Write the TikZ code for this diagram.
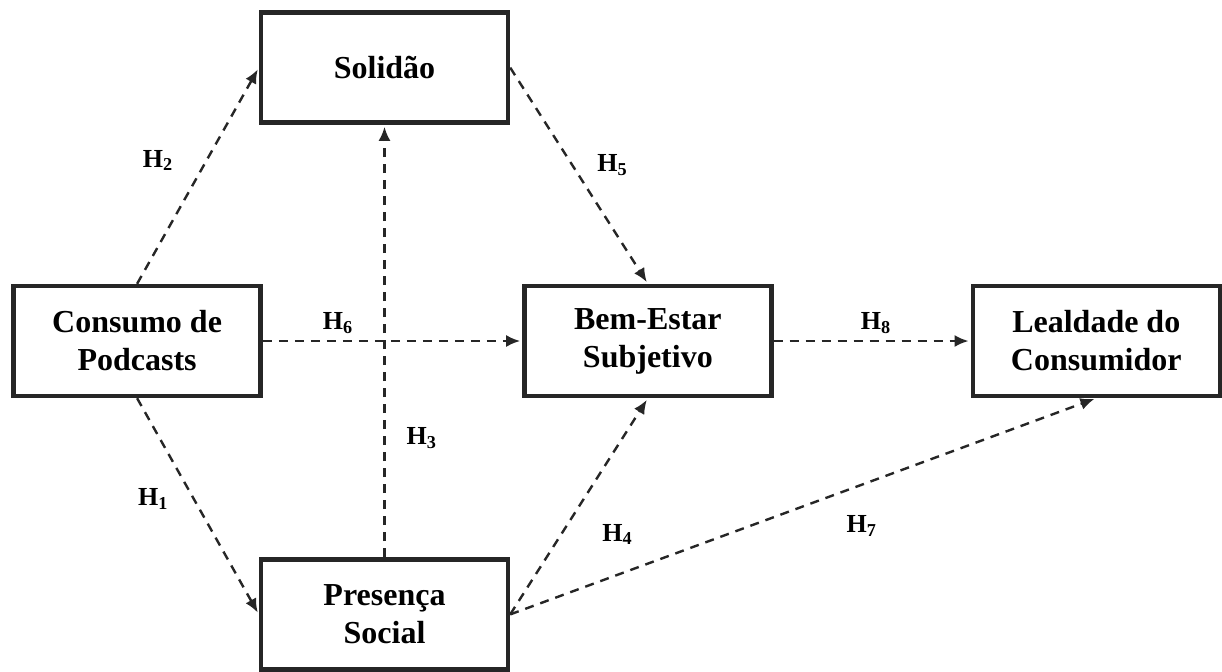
\documentclass[tikz,border=0pt]{standalone}
\usepackage{fontspec}
\setmainfont{Liberation Serif}
\usetikzlibrary{matrix, arrows.meta}

\tikzset{
  construct/.style = {draw=black!85, line width=2.2pt, rectangle, minimum width=123.5pt, minimum height=55pt, inner sep=4pt, align=center, font=\fontsize{16}{19}\selectfont\bfseries},
  hyp/.style = {->, >={Latex[length=7pt,width=6pt]}, draw=black!85, line width=1.2pt, dash pattern=on 4.5pt off 3.5pt, shorten >=1pt},
  hlabel/.style = {inner sep=0pt, font=\fontsize{13}{15}\selectfont\bfseries}
}
\newcommand{\Hyp}[1]{H\textsubscript{#1}}

\begin{document}
\begin{tikzpicture}
\useasboundingbox[fill=white] (0,0) rectangle (611pt,-335.5pt);
\matrix (m) [anchor=north west, inner sep=0pt, column sep=0pt, row sep=79.5pt] at (5.5pt,-5pt) {
 &[-2pt] \node[construct](s){Solidão}; &[6pt] &[98.5pt] \\
\node[construct](c){Consumo de\\Podcasts}; &[-2pt] &[6pt] \node[construct](b){Bem-Estar\\Subjetivo}; &[98.5pt] \node[construct](l){Lealdade do\\Consumidor}; \\
 &[-2pt] \node[construct](p){Presença\\Social}; &[6pt] &[98.5pt] \\
};
\draw [hyp](c.north) -- (s.west) node[hlabel, left=16pt, pos=.57]{\Hyp{2}};
\draw [hyp](p.north) -- (s.south) node[hlabel, right=10.5pt, pos=.275]{\Hyp{3}};
\draw [hyp](s.east) -- (b.north) node[hlabel, right=12pt, pos=.45]{\Hyp{5}};
\draw [hyp](c.east) -- (b.west) node[hlabel, above=3pt, pos=.29]{\Hyp{6}};
\draw [hyp](b.east) -- (l.west) node[hlabel, above=3pt, pos=.52]{\Hyp{8}};
\draw [hyp](c.south) -- (p.west) node[hlabel, left=12pt, pos=.465]{\Hyp{1}};
\draw [hyp](p.east) -- (b.south) node[hlabel, right=20pt, pos=.37]{\Hyp{4}};
\draw [hyp](p.east) -- (l.south) node[hlabel, below=15pt, pos=.6]{\Hyp{7}};
\end{tikzpicture}
\end{document}
